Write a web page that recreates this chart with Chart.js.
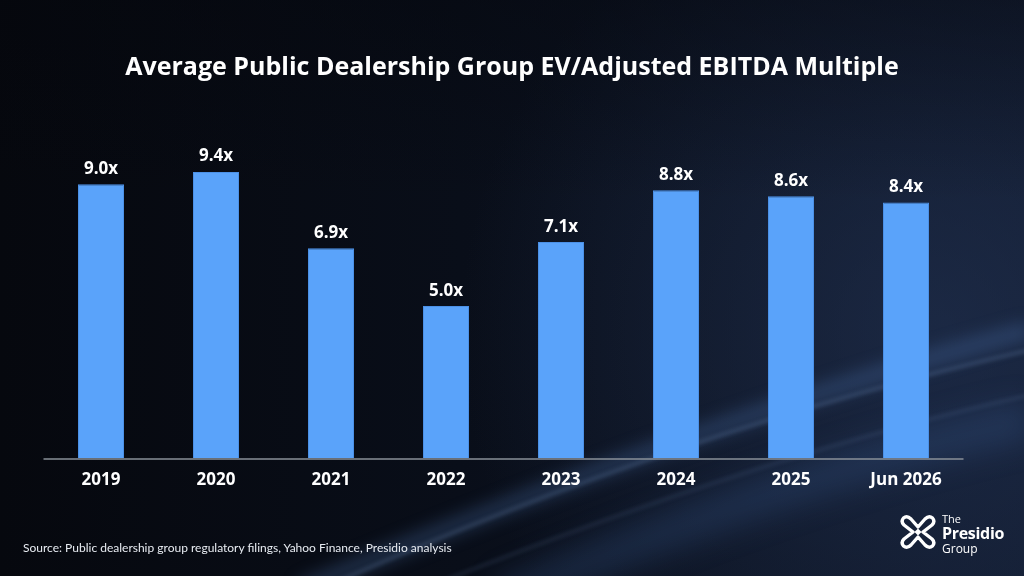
<!DOCTYPE html>
<html>
<head>
<meta charset="utf-8">
<script src="https://cdn.jsdelivr.net/npm/chart.js@4.4.1/dist/chart.umd.min.js"></script>
<style>
  html, body { margin:0; padding:0; width:1024px; height:576px; overflow:hidden; background:#0a0f1b; }
  #wrap { position:relative; width:1024px; height:576px; }
  #c { position:absolute; left:0; top:0; }
  #title { position:absolute; left:0; top:50px; width:1024px; text-align:center; font-family:"Open Sans", Lato, sans-serif; font-weight:700; font-size:25px; line-height:30px; color:#fff; white-space:nowrap; }
  #source { position:absolute; left:23px; top:540px; font-family:Lato, "Noto Sans", sans-serif; font-size:12px; color:#e8ecf2; white-space:nowrap; }
  #logo { position:absolute; left:899px; top:512px; width:120px; height:46px; }
  #logo svg { position:absolute; left:0; top:1px; }
  #logo .t { position:absolute; left:43px; font-family:"Open Sans", Lato, sans-serif; color:#fff; line-height:1; white-space:nowrap; }
</style>
</head>
<body>
<div id="wrap">
  <canvas id="c" width="1024" height="576"></canvas>
  <div id="title"></div>
  <div id="source">Source: Public dealership group regulatory filings, Yahoo Finance, Presidio analysis</div>
  <div id="logo">
    <svg width="38" height="38" viewBox="0 0 38 38">
      <g fill="none" stroke="#ffffff" stroke-width="3.4" stroke-linejoin="round" stroke-linecap="round">
        <path d="M19 14 L12 6 Q8 2 4.5 5 Q1.5 8.5 5 12 L14 19 L5 26 Q1.5 29.5 4.5 33 Q8 36 12 32 L19 24 L26 32 Q30 36 33.5 33 Q36.5 29.5 33 26 L24 19 L33 12 Q36.5 8.5 33.5 5 Q30 2 26 6 Z"/>
      </g>
      <rect x="16.5" y="16.5" width="5" height="5" fill="#fff" transform="rotate(45 19 19)"/>
    </svg>
    <div class="t" style="top:1px;font-size:11px;">The</div>
    <div class="t" style="top:13px;font-size:16px;font-weight:700;letter-spacing:-0.3px;">Presidio</div>
    <div class="t" style="top:31px;font-size:12px;">Group</div>
  </div>
</div>
<script>
const categories = ["2019", "2020", "2021", "2022", "2023", "2024", "2025", "Jun 2026"];
const multiples = [9.0, 9.4, 6.9, 5.0, 7.1, 8.8, 8.6, 8.4];
const yMin = 0;
const yMax = 10;
const chartTitle = "Average Public Dealership Group EV/Adjusted EBITDA Multiple";

document.getElementById('title').textContent = chartTitle;

const FONT = '"Open Sans", Lato, sans-serif';

const backgroundPlugin = {
  id: 'bg',
  beforeDraw(chart) {
    const ctx = chart.ctx;
    const W = chart.width, H = chart.height;
    ctx.save();
    let g = ctx.createLinearGradient(0, 0, W, 0);
    g.addColorStop(0, '#06080e');
    g.addColorStop(0.45, '#090e19');
    g.addColorStop(1, '#111a2d');
    ctx.fillStyle = g;
    ctx.fillRect(0, 0, W, H);
    let r = ctx.createRadialGradient(940, 330, 10, 940, 330, 480);
    r.addColorStop(0, 'rgba(38,56,92,0.5)');
    r.addColorStop(1, 'rgba(38,56,92,0)');
    ctx.fillStyle = r;
    ctx.fillRect(0, 0, W, H);
    let t = ctx.createLinearGradient(0, 0, 0, H);
    t.addColorStop(0, 'rgba(4,6,12,0.4)');
    t.addColorStop(0.35, 'rgba(4,6,12,0)');
    ctx.fillStyle = t;
    ctx.fillRect(0, 0, W, H);
    ctx.filter = 'blur(8px)';
    ctx.strokeStyle = 'rgba(80,120,180,0.3)';
    ctx.lineWidth = 18;
    ctx.beginPath();
    ctx.moveTo(300, 590);
    ctx.quadraticCurveTo(700, 420, 1030, 330);
    ctx.stroke();
    ctx.filter = 'blur(2px)';
    ctx.strokeStyle = 'rgba(140,175,225,0.3)';
    ctx.lineWidth = 2.5;
    ctx.beginPath();
    ctx.moveTo(330, 585);
    ctx.quadraticCurveTo(680, 430, 1030, 350);
    ctx.stroke();
    ctx.strokeStyle = 'rgba(140,175,225,0.22)';
    ctx.lineWidth = 2;
    ctx.beginPath();
    ctx.moveTo(420, 590);
    ctx.quadraticCurveTo(760, 455, 1030, 395);
    ctx.stroke();
    ctx.filter = 'blur(14px)';
    ctx.strokeStyle = 'rgba(60,95,150,0.25)';
    ctx.lineWidth = 40;
    ctx.beginPath();
    ctx.moveTo(500, 600);
    ctx.quadraticCurveTo(800, 470, 1030, 420);
    ctx.stroke();
    ctx.filter = 'none';
    ctx.restore();
  }
};

const axisLinePlugin = {
  id: 'axisLine',
  afterDatasetsDraw(chart) {
    const ctx = chart.ctx;
    const a = chart.chartArea;
    const y = chart.scales.y.getPixelForValue(0);
    ctx.save();
    ctx.strokeStyle = '#8a9099';
    ctx.lineWidth = 1.5;
    ctx.beginPath();
    ctx.moveTo(a.left, y + 0.75);
    ctx.lineTo(a.right, y + 0.75);
    ctx.stroke();
    ctx.restore();
  }
};

const labelPlugin = {
  id: 'valueLabels',
  afterDatasetsDraw(chart) {
    const ctx = chart.ctx;
    const meta = chart.getDatasetMeta(0);
    ctx.save();
    ctx.fillStyle = '#ffffff';
    ctx.font = 'bold 17px ' + FONT;
    ctx.textAlign = 'center';
    ctx.textBaseline = 'alphabetic';
    meta.data.forEach((bar, i) => {
      ctx.fillText(multiples[i].toFixed(1) + 'x', bar.x, bar.y - 10.5);
    });
    ctx.restore();
  }
};

new Chart(document.getElementById('c'), {
  type: 'bar',
  data: {
    labels: categories,
    datasets: [{
      data: multiples,
      backgroundColor: '#5aa3fa',
      borderColor: '#4b90e6',
      borderWidth: 1,
      barPercentage: 0.4,
      categoryPercentage: 1.0
    }]
  },
  options: {
    responsive: false,
    animation: false,
    devicePixelRatio: 1,
    layout: { padding: { left: 43.5, right: 60.5, top: 153.7, bottom: 73.3 } },
    plugins: {
      legend: { display: false },
      tooltip: { enabled: false },
      title: { display: false }
    },
    scales: {
      x: {
        grid: { display: false, drawTicks: false },
        border: { display: false },
        ticks: {
          color: '#ffffff',
          padding: 12,
          font: { family: FONT, size: 17, weight: 'bold' }
        }
      },
      y: {
        display: false,
        min: yMin,
        max: yMax
      }
    }
  },
  plugins: [backgroundPlugin, axisLinePlugin, labelPlugin]
});
</script>
</body>
</html>
